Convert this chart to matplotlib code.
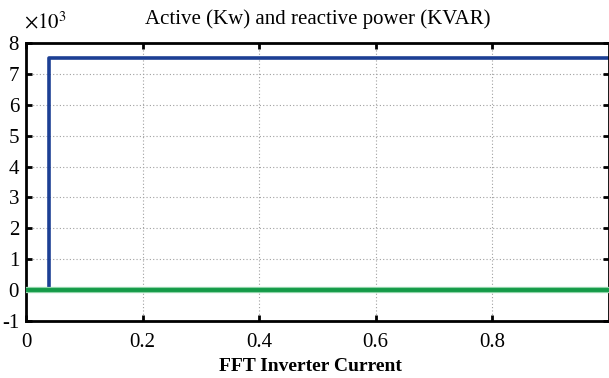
import matplotlib
matplotlib.use("Agg")
import matplotlib.pyplot as plt

plt.rcParams['font.family'] = ['Liberation Serif', 'DejaVu Serif']
plt.rcParams['mathtext.fontset'] = 'stix'

# active power step (W) and reactive power (VAR)
t_active = [0.0, 0.039, 0.039, 1.0]
p_active = [0, 0, 7500, 7500]
t_reactive = [0.0, 1.0]
q_reactive = [0, 0]

x_ticks = [0, 0.2, 0.4, 0.6, 0.8]
x_labels = ['0', '0.2', '0.4', '0.6', '0.8']
y_ticks = [-1000, 0, 1000, 2000, 3000, 4000, 5000, 6000, 7000, 8000]
y_labels = ['-1', '0', '1', '2', '3', '4', '5', '6', '7', '8']

fig = plt.figure(figsize=(6.09, 3.78), dpi=100)
ax = fig.add_axes([0.0427, 0.1508, 0.957, 0.7354])

ax.plot(t_active, p_active, color='#1c3f94', linewidth=2.6, zorder=2)
ax.plot(t_reactive, q_reactive, color='#8fd4a8', linewidth=4.5, zorder=3)
ax.plot(t_reactive, q_reactive, color='#149a48', linewidth=2.8, zorder=3)

ax.set_xlim(0, 1)
ax.set_ylim(-1000, 8000)
ax.set_xticks(x_ticks)
ax.set_xticklabels(x_labels)
ax.set_yticks(y_ticks)
ax.set_yticklabels(y_labels)
ax.text(-0.003, 1.035, r'$\times10^{3}$', transform=ax.transAxes,
        fontsize=15, ha='left', va='bottom')

ax.grid(True, color='#a0a0a0', linestyle=(0, (1, 2)), linewidth=0.8)
ax.tick_params(direction='in', top=True, right=True, length=4, width=2,
               labelsize=15)
ax.tick_params(axis='x', pad=9)
ax.tick_params(axis='y', pad=5)
for s in ax.spines.values():
    s.set_linewidth(2)

ax.set_title("Active (Kw) and reactive power (KVAR)", fontsize=15, pad=14)
fig.text(0.51, 0.018, "FFT Inverter Current", ha='center', fontsize=14,
         fontweight='bold')

fig.savefig("out.png", dpi=100)
